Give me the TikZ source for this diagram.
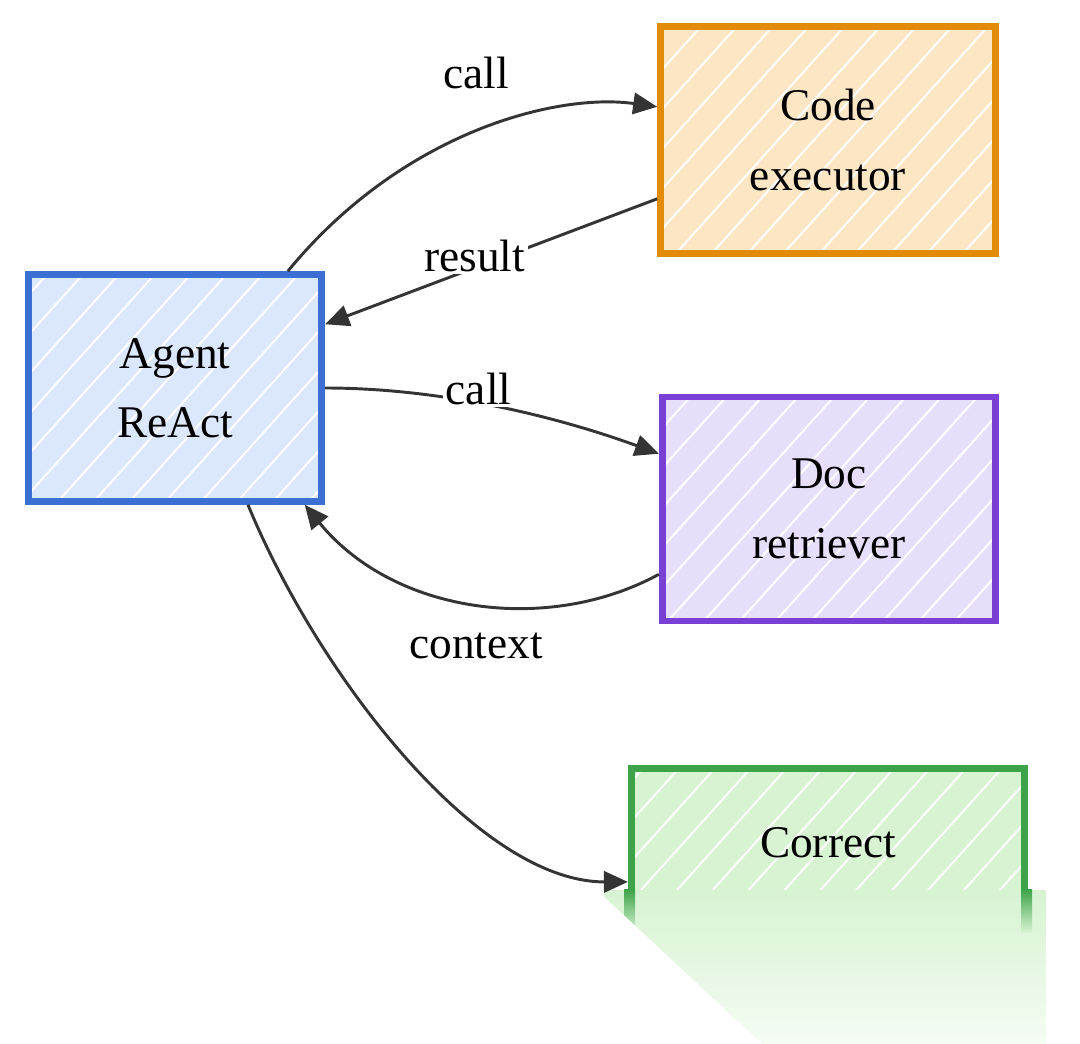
\documentclass[tikz,border=0pt]{standalone}
\usepackage{fontspec}
\setmainfont{Liberation Serif}
\usetikzlibrary{arrows.meta,patterns.meta}

\definecolor{agentline}{RGB}{59,111,212}
\definecolor{agentfill}{RGB}{219,231,252}
\definecolor{codeline}{RGB}{225,139,8}
\definecolor{codefill}{RGB}{253,230,196}
\definecolor{docline}{RGB}{122,64,214}
\definecolor{docfill}{RGB}{231,222,251}
\definecolor{correctline}{RGB}{60,163,72}
\definecolor{correctfill}{RGB}{215,243,210}
\definecolor{linkgray}{RGB}{52,52,52}

\tikzset{every picture/.style={line width=0.75pt}}
\tikzset{
  box/.style={draw=#1line, preaction={fill=#1fill},
    pattern={Lines[angle=48, distance=20pt, line width=1.5pt]}, pattern color=white,
    line width=5.2pt, align=center, inner sep=0pt,
    font=\fontsize{34}{52}\selectfont},
  link/.style={draw=linkgray, line width=2.2pt, -{Triangle[length=18pt,width=16pt]}},
  lbl/.style={font=\fontsize{34}{40}\selectfont, fill=white, inner sep=2pt},
}

\begin{document}
\begin{tikzpicture}[x=0.75pt,y=0.75pt,yscale=-1,xscale=1]
\useasboundingbox (0,0) rectangle (1080,1044);

%Shape: Rectangle [agent]
\draw (175,388) node [box=agent, minimum width=220pt, minimum height=170pt] (agent) {Agent\\ReAct};
%Shape: Rectangle [code]
\draw (828,140) node [box=code, minimum width=251pt, minimum height=170pt] (code) {Code\\executor};
%Shape: Rectangle [doc]
\draw (829,509) node [box=doc, minimum width=250pt, minimum height=168pt] (doc) {Doc\\retriever};
%Shape: Rectangle [correct]
\draw (828,843) node [box=correct, minimum width=295pt, minimum height=112pt] (correct) {Correct};

%Faded bottom of the last box
\fill [top color=correctfill, bottom color=correctfill!25] (604,890) rectangle (1046,1044);
\fill [top color=correctline, bottom color=correctfill] (624,889) rectangle (635,932);
\fill [top color=correctline, bottom color=correctfill] (1021,889) rectangle (1032,932);
\fill [white] (600,893) -- (762,1044) -- (600,1044) -- cycle;

%Curve Lines [call code]
\draw [link] (agent.46) .. controls +(115,-140) and +(-100,-14) .. (code.169);
% Text Node
\draw (476,73) node [lbl] (callcode) {call};

%Straight Lines [result]
\draw [link] (code.199) -- node [lbl, pos=0.55, yshift=9] (result) {result} (agent.23);

%Curve Lines [call doc]
\draw [link] (agent.east) .. controls +(110,0) and +(-110,-40) .. node [lbl, pos=0.46, yshift=11] (calldoc) {call} (doc.162);

%Curve Lines [context]
\draw [link] (doc.201) .. controls +(-110,60) and +(90,110) .. (agent.-42);
% Text Node
\draw (476,646) node [lbl] (context) {context};

%Curve Lines [correct]
\draw [link] (agent.-58) .. controls +(70,170) and +(-150,0) .. (correct.191);

\end{tikzpicture}
\end{document}
